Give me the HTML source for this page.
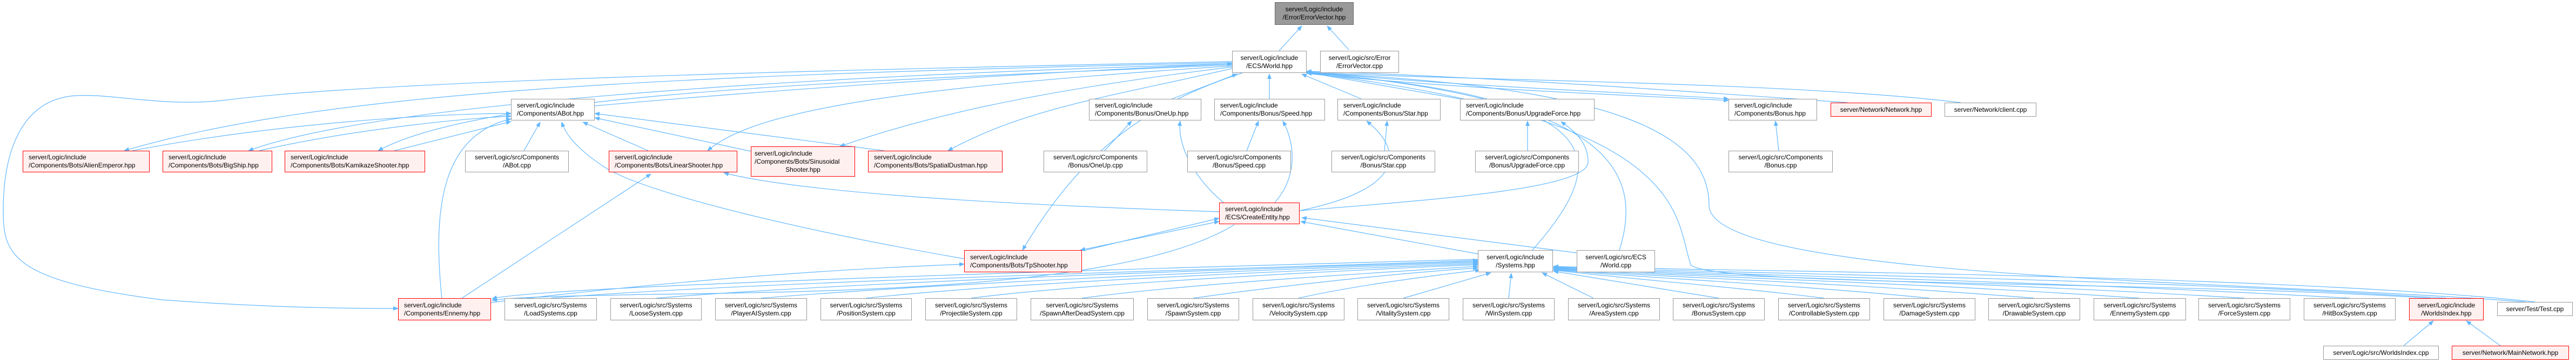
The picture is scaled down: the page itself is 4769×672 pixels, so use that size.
<!DOCTYPE html>
<html><head><meta charset="utf-8"><style>
body{margin:0;width:4769px;height:672px;background:#fff;position:relative;overflow:hidden;font-family:"Liberation Sans",Arial,sans-serif;}
svg{position:absolute;left:0;top:0}
.n{position:absolute;box-sizing:border-box;border:1.5px solid #999;background:#fff;font-size:12px;line-height:15px;color:#000;display:flex;flex-direction:column;justify-content:center;text-align:center;white-space:nowrap;padding:0 6px}
.r{border-color:#f00;background:#fff0f0}
.g{background:#999;border-color:#666}
.l{text-align:left;padding-left:10px}
</style></head><body>
<svg width="4769" height="672" viewBox="0 0 4769 672">
<defs><marker id="a" markerWidth="10" markerHeight="8" refX="9" refY="4" orient="auto" markerUnits="userSpaceOnUse"><path d="M0,0 L10,4 L0,8 z" fill="#63b8ff"/></marker>
<marker id="s" markerWidth="10" markerHeight="8" refX="1" refY="4" orient="auto" markerUnits="userSpaceOnUse"><path d="M10,0 L0,4 L10,8 z" fill="#63b8ff"/></marker></defs>
<g fill="none" stroke="#63b8ff" stroke-width="1.2" marker-end="url(#a)">
<path d="M2368,94 L2410,48"/>
<path d="M2497,92 L2457,48"/>
<path d="M1101,196 C1500,160 2000,130 2281,118"/>
<path d="M2281,114 C1500,130 700,150 420,185 C300,200 200,170 130,178 C40,190 6,280 6,390 C6,470 20,520 300,555 C500,570 650,571 737,571"/>
<path d="M2281,116 C1200,140 600,170 230,279"/>
<path d="M2281,118 C1500,140 700,190 460,279"/>
<path d="M2281,120 C1600,150 900,170 700,279"/>
<path d="M2281,122 C1700,160 1400,200 1310,279"/>
<path d="M2281,124 C1900,170 1700,220 1555,271"/>
<path d="M2285,126 C2050,180 1900,200 1755,279"/>
<path d="M2300,135 C2100,200 1990,300 1893,463"/>
<path d="M2170,183 L2290,137"/>
<path d="M2350,183 L2350,137"/>
<path d="M2520,183 L2410,137"/>
<path d="M2703,183 L2419,134"/>
<path d="M2419,133 C2700,160 3000,170 3200,183"/>
<path d="M2419,136 C2700,165 3000,175 3200,186"/>
<path d="M3420,190 C3000,160 2700,140 2419,132"/>
<path d="M3630,190 C3300,150 2700,150 2419,133"/>
<path d="M2998,463 C3050,300 2950,180 2419,134"/>
<path d="M2837,463 C2980,300 3000,180 2419,135"/>
<path d="M4675,559 C4200,520 3164,520 3164,380 C3164,250 3000,160 2419,135"/>
<path d="M4500,552 C4000,520 3160,530 3130,490 C3100,400 3130,220 2419,135"/>
<path d="M245,279 C500,230 800,210 946,210"/>
<path d="M480,279 C650,240 850,220 946,215"/>
<path d="M730,279 L946,225"/>
<path d="M970,279 L1000,226"/>
<path d="M1200,279 L1079,226"/>
<path d="M1390,280 L1101,218"/>
<path d="M1637,279 L1101,210"/>
<path d="M818,552 C800,380 820,250 946,220"/>
<path d="M1785,479 C1500,430 1200,360 1120,310 C1090,290 1050,260 1040,226"/>
<path d="M855,552 L1205,322"/>
<path d="M2257,392 C1900,380 1500,360 1340,320"/>
<path d="M2265,375 C2200,320 2180,260 2185,224"/>
<path d="M2045,279 L2095,224"/>
<path d="M2308,279 L2330,224"/>
<path d="M2360,375 C2400,330 2400,270 2375,224"/>
<path d="M2563,279 L2568,224"/>
<path d="M2406,390 C2600,350 2600,280 2530,224"/>
<path d="M2828,279 L2828,224"/>
<path d="M2406,390 C2650,370 2940,350 2940,300 C2940,260 2910,240 2890,225"/>
<path d="M3293,279 L3287,224"/>
<path d="M2000,463 L2257,410" marker-start="url(#s)"/>
<path d="M2010,463 L2257,404"/>
<path d="M2736,470 L2408,410"/>
<path d="M2918,468 L2410,403"/>
<path d="M2285,416 C2100,530 1600,540 1200,545 C1050,548 950,550 911,556"/>
<path d="M909,560 C1200,525 1500,500 1785,489"/>
<path d="M2736,480 C2000,500 1000,530 911,553"/>
<path d="M1020,552 C1400,520 2400,495 2736,482"/>
<path d="M1215,552 C1600,520 2400,495 2736,484"/>
<path d="M1409,552 C1800,520 2450,495 2736,486"/>
<path d="M1603,552 C1900,520 2500,497 2736,488"/>
<path d="M1798,552 C2000,525 2500,500 2736,490"/>
<path d="M2003,552 C2200,525 2550,505 2736,493"/>
<path d="M2209,552 C2400,525 2600,505 2736,496"/>
<path d="M2404,552 C2500,530 2650,510 2740,500"/>
<path d="M2598,552 L2760,505"/>
<path d="M2793,552 L2798,506"/>
<path d="M2950,552 L2855,505"/>
<path d="M3182,552 L2876,502"/>
<path d="M3377,552 C3200,530 3000,515 2876,500"/>
<path d="M3572,552 C3300,525 3000,512 2876,499"/>
<path d="M3766,552 C3400,522 3000,510 2876,498"/>
<path d="M3961,552 C3500,520 3000,508 2876,497"/>
<path d="M4155,552 C3600,518 3000,506 2876,496"/>
<path d="M4350,552 C3700,515 3000,504 2876,495"/>
<path d="M4529,552 C3900,512 3000,502 2876,494"/>
<path d="M4693,559 C4200,505 3000,500 2876,493"/>
<path d="M4450,640 L4505,594"/>
<path d="M4629,640 L4566,594"/>
</g></svg>
<div class="n g" style="left:2360px;top:4px;width:146px;height:42px">server/Logic/include<br>/Error/ErrorVector.hpp</div>
<div class="n" style="left:2281px;top:94px;width:138px;height:41px">server/Logic/include<br>/ECS/World.hpp</div>
<div class="n" style="left:2444px;top:94px;width:146px;height:41px">server/Logic/src/Error<br>/ErrorVector.cpp</div>
<div class="n l" style="left:946px;top:183px;width:155px;height:40px">server/Logic/include<br>/Components/ABot.hpp</div>
<div class="n l" style="left:2016px;top:183px;width:208px;height:40px">server/Logic/include<br>/Components/Bonus/OneUp.hpp</div>
<div class="n l" style="left:2248px;top:183px;width:205px;height:40px">server/Logic/include<br>/Components/Bonus/Speed.hpp</div>
<div class="n l" style="left:2476px;top:183px;width:191px;height:40px">server/Logic/include<br>/Components/Bonus/Star.hpp</div>
<div class="n l" style="left:2703px;top:183px;width:249px;height:40px">server/Logic/include<br>/Components/Bonus/UpgradeForce.hpp</div>
<div class="n l" style="left:3200px;top:183px;width:164px;height:40px">server/Logic/include<br>/Components/Bonus.hpp</div>
<div class="n r" style="left:3389px;top:190px;width:187px;height:26px">server/Network/Network.hpp</div>
<div class="n" style="left:3600px;top:190px;width:170px;height:26px">server/Network/client.cpp</div>
<div class="n r l" style="left:42px;top:279px;width:235px;height:40px">server/Logic/include<br>/Components/Bots/AlienEmperor.hpp</div>
<div class="n r l" style="left:301px;top:279px;width:203px;height:40px">server/Logic/include<br>/Components/Bots/BigShip.hpp</div>
<div class="n r l" style="left:527px;top:279px;width:260px;height:40px">server/Logic/include<br>/Components/Bots/KamikazeShooter.hpp</div>
<div class="n" style="left:861px;top:279px;width:192px;height:40px">server/Logic/src/Components<br>/ABot.cpp</div>
<div class="n r l" style="left:1127px;top:279px;width:238px;height:40px">server/Logic/include<br>/Components/Bots/LinearShooter.hpp</div>
<div class="n r" style="left:1390px;top:271px;width:193px;height:56px"><span style="text-align:left">server/Logic/include<br>/Components/Bots/Sinusoidal</span>Shooter.hpp</div>
<div class="n r l" style="left:1607px;top:279px;width:249px;height:40px">server/Logic/include<br>/Components/Bots/SpatialDustman.hpp</div>
<div class="n" style="left:1932px;top:279px;width:192px;height:40px">server/Logic/src/Components<br>/Bonus/OneUp.cpp</div>
<div class="n" style="left:2198px;top:279px;width:192px;height:40px">server/Logic/src/Components<br>/Bonus/Speed.cpp</div>
<div class="n" style="left:2465px;top:279px;width:192px;height:40px">server/Logic/src/Components<br>/Bonus/Star.cpp</div>
<div class="n" style="left:2731px;top:279px;width:192px;height:40px">server/Logic/src/Components<br>/Bonus/UpgradeForce.cpp</div>
<div class="n" style="left:3200px;top:279px;width:193px;height:40px">server/Logic/src/Components<br>/Bonus.cpp</div>
<div class="n r l" style="left:2257px;top:375px;width:149px;height:40px">server/Logic/include<br>/ECS/CreateEntity.hpp</div>
<div class="n r l" style="left:1785px;top:463px;width:218px;height:41px">server/Logic/include<br>/Components/Bots/TpShooter.hpp</div>
<div class="n" style="left:2736px;top:463px;width:139px;height:41px">server/Logic/include<br>/Systems.hpp</div>
<div class="n" style="left:2919px;top:463px;width:145px;height:41px">server/Logic/src/ECS<br>/World.cpp</div>
<div class="n r l" style="left:737px;top:552px;width:172px;height:41px">server/Logic/include<br>/Components/Ennemy.hpp</div>
<div class="n" style="left:934px;top:552px;width:171px;height:41px">server/Logic/src/Systems<br>/LoadSystems.cpp</div>
<div class="n" style="left:1130px;top:552px;width:169px;height:41px">server/Logic/src/Systems<br>/LooseSystem.cpp</div>
<div class="n" style="left:1324px;top:552px;width:170px;height:41px">server/Logic/src/Systems<br>/PlayerAISystem.cpp</div>
<div class="n" style="left:1519px;top:552px;width:169px;height:41px">server/Logic/src/Systems<br>/PositionSystem.cpp</div>
<div class="n" style="left:1713px;top:552px;width:170px;height:41px">server/Logic/src/Systems<br>/ProjectileSystem.cpp</div>
<div class="n" style="left:1908px;top:552px;width:191px;height:41px">server/Logic/src/Systems<br>/SpawnAfterDeadSystem.cpp</div>
<div class="n" style="left:2124px;top:552px;width:170px;height:41px">server/Logic/src/Systems<br>/SpawnSystem.cpp</div>
<div class="n" style="left:2319px;top:552px;width:170px;height:41px">server/Logic/src/Systems<br>/VelocitySystem.cpp</div>
<div class="n" style="left:2513px;top:552px;width:170px;height:41px">server/Logic/src/Systems<br>/VitalitySystem.cpp</div>
<div class="n" style="left:2708px;top:552px;width:170px;height:41px">server/Logic/src/Systems<br>/WinSystem.cpp</div>
<div class="n" style="left:2903px;top:552px;width:170px;height:41px">server/Logic/src/Systems<br>/AreaSystem.cpp</div>
<div class="n" style="left:3097px;top:552px;width:170px;height:41px">server/Logic/src/Systems<br>/BonusSystem.cpp</div>
<div class="n" style="left:3292px;top:552px;width:170px;height:41px">server/Logic/src/Systems<br>/ControllableSystem.cpp</div>
<div class="n" style="left:3487px;top:552px;width:170px;height:41px">server/Logic/src/Systems<br>/DamageSystem.cpp</div>
<div class="n" style="left:3681px;top:552px;width:170px;height:41px">server/Logic/src/Systems<br>/DrawableSystem.cpp</div>
<div class="n" style="left:3876px;top:552px;width:171px;height:41px">server/Logic/src/Systems<br>/EnnemySystem.cpp</div>
<div class="n" style="left:4070px;top:552px;width:170px;height:41px">server/Logic/src/Systems<br>/ForceSystem.cpp</div>
<div class="n" style="left:4265px;top:552px;width:170px;height:41px">server/Logic/src/Systems<br>/HitBoxSystem.cpp</div>
<div class="n r" style="left:4460px;top:552px;width:138px;height:41px">server/Logic/include<br>/WorldsIndex.hpp</div>
<div class="n" style="left:4623px;top:559px;width:140px;height:26px">server/Test/Test.cpp</div>
<div class="n" style="left:4301px;top:640px;width:214px;height:26px">server/Logic/src/WorldsIndex.cpp</div>
<div class="n r" style="left:4539px;top:640px;width:217px;height:26px">server/Network/MainNetwork.hpp</div>
</body></html>
